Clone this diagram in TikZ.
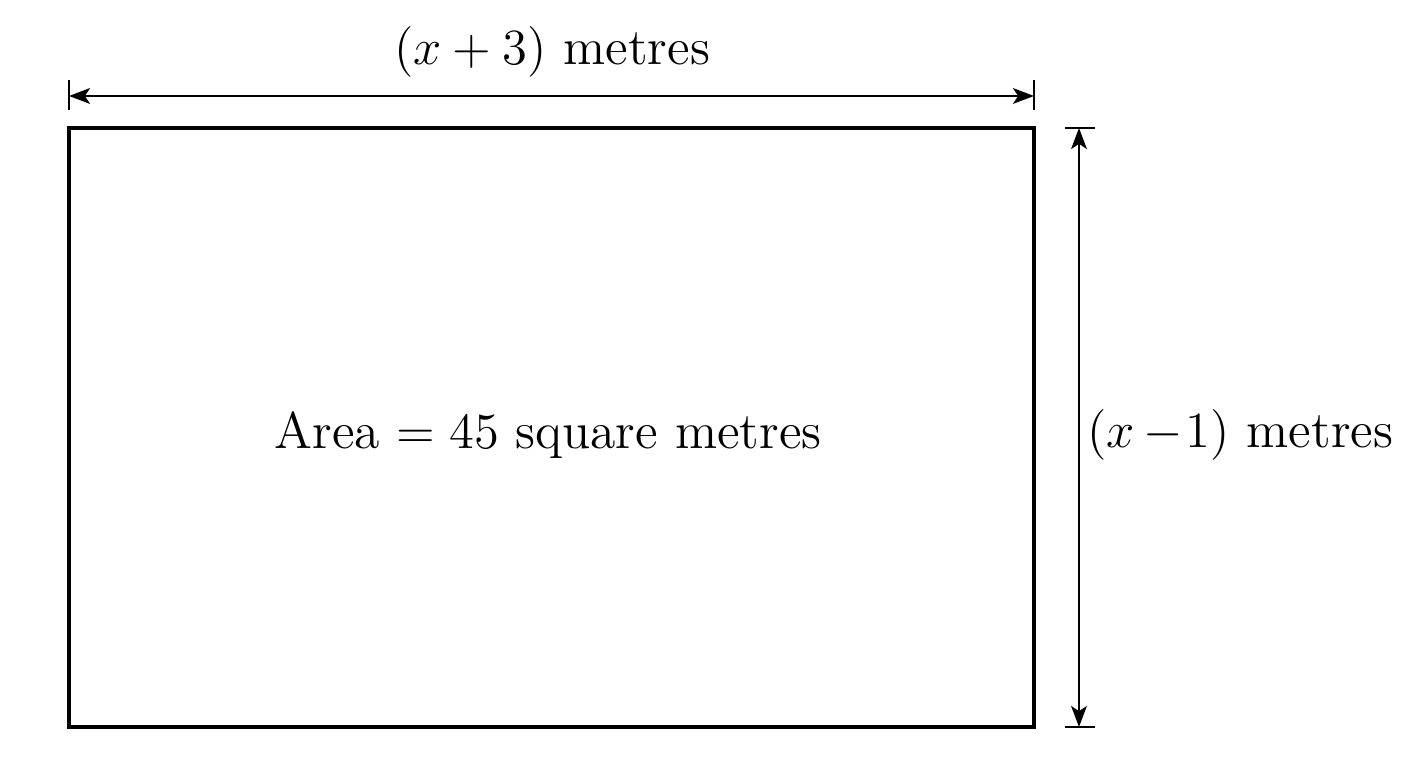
\documentclass[tikz,border=0pt]{standalone}
\usetikzlibrary{arrows.meta}
\begin{document}
\begin{tikzpicture}[x=0.01cm,y=-0.01cm,
  box/.style={line width=1pt},
  dim/.style={line width=0.55pt,{Stealth[length=6pt,width=4.5pt,inset=1.5pt]}-{Stealth[length=6pt,width=4.5pt,inset=1.5pt]}},
  tick/.style={line width=0.55pt},
  lbl/.style={font=\fontsize{14.7}{17}\selectfont,inner sep=0pt}]
\useasboundingbox (0,0) rectangle (1408,768);
\draw[box] (69,128) rectangle (1034,727);
\coordinate (tl) at (69,96);
\coordinate (tr) at (1034,96);
\coordinate (rt) at (1079,128);
\coordinate (rb) at (1079,727);
\draw[tick] (69,80) -- (69,110);
\draw[tick] (1034,80) -- (1034,110);
\draw[tick] (1065,128) -- (1095,128);
\draw[tick] (1065,727) -- (1095,727);
\draw[dim] (tl) -- (tr);
\draw[dim] (rt) -- (rb);
\node[lbl] (top) at (552,52) {$(x+3)$ metres};
\node[lbl,anchor=west] (side) at (1087,435) {$(x\mskip3mu{-}\mskip1mu 1)$ metres};
\node[lbl] (area) at (548,435) {Area $=45$ square metres};
\end{tikzpicture}
\end{document}
